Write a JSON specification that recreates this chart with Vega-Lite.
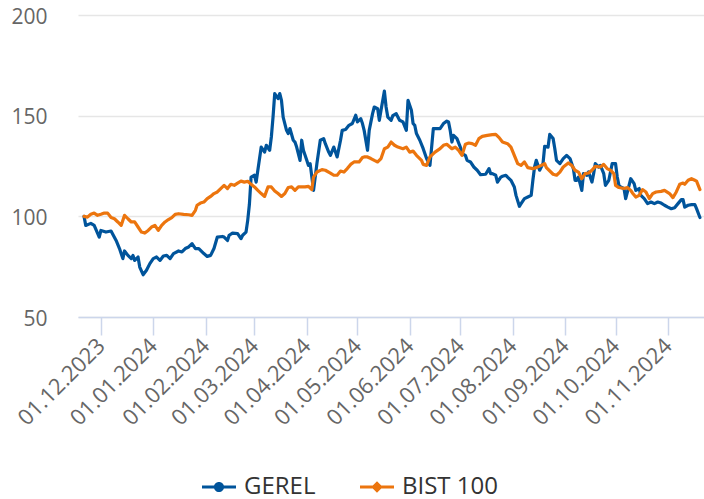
{
  "$schema": "https://vega.github.io/schema/vega-lite/v6.json",
  "width": 626,
  "height": 302,
  "autosize": {"type": "none"},
  "padding": {"left": 78, "top": 15, "right": 0, "bottom": 182},
  "background": "white",
  "config": {"view": {"stroke": null}},
  "data": {"values": [
{"s":"GEREL","d":"2023-11-21","v":100},{"s":"GEREL","d":"2023-11-22","v":95.5},{"s":"GEREL","d":"2023-11-25","v":96.5},{"s":"GEREL","d":"2023-11-27","v":95.5},{"s":"GEREL","d":"2023-11-30","v":89.7},{"s":"GEREL","d":"2023-12-01","v":93},{"s":"GEREL","d":"2023-12-04","v":92.2},{"s":"GEREL","d":"2023-12-07","v":92.7},{"s":"GEREL","d":"2023-12-10","v":88},{"s":"GEREL","d":"2023-12-12","v":84},{"s":"GEREL","d":"2023-12-14","v":79},{"s":"GEREL","d":"2023-12-15","v":82.8},{"s":"GEREL","d":"2023-12-17","v":80.6},{"s":"GEREL","d":"2023-12-19","v":79},{"s":"GEREL","d":"2023-12-20","v":80.6},{"s":"GEREL","d":"2023-12-21","v":78.1},{"s":"GEREL","d":"2023-12-23","v":79.8},{"s":"GEREL","d":"2023-12-24","v":74.8},{"s":"GEREL","d":"2023-12-26","v":71},{"s":"GEREL","d":"2023-12-28","v":73.2},{"s":"GEREL","d":"2023-12-30","v":76.5},
{"s":"GEREL","d":"2024-01-01","v":79},{"s":"GEREL","d":"2024-01-03","v":79.8},{"s":"GEREL","d":"2024-01-05","v":78.1},{"s":"GEREL","d":"2024-01-07","v":80.3},{"s":"GEREL","d":"2024-01-09","v":80.6},{"s":"GEREL","d":"2024-01-11","v":79},{"s":"GEREL","d":"2024-01-13","v":81.5},{"s":"GEREL","d":"2024-01-16","v":82.8},{"s":"GEREL","d":"2024-01-18","v":82.3},{"s":"GEREL","d":"2024-01-20","v":84},{"s":"GEREL","d":"2024-01-22","v":84.8},{"s":"GEREL","d":"2024-01-24","v":86.4},{"s":"GEREL","d":"2024-01-26","v":84},{"s":"GEREL","d":"2024-01-28","v":84},{"s":"GEREL","d":"2024-01-31","v":81.5},
{"s":"GEREL","d":"2024-02-02","v":80.1},{"s":"GEREL","d":"2024-02-04","v":80.6},{"s":"GEREL","d":"2024-02-06","v":84},{"s":"GEREL","d":"2024-02-08","v":89.7},{"s":"GEREL","d":"2024-02-11","v":90},{"s":"GEREL","d":"2024-02-12","v":89.7},{"s":"GEREL","d":"2024-02-14","v":88},{"s":"GEREL","d":"2024-02-15","v":90.6},{"s":"GEREL","d":"2024-02-17","v":91.7},{"s":"GEREL","d":"2024-02-20","v":91.4},{"s":"GEREL","d":"2024-02-22","v":88.9},{"s":"GEREL","d":"2024-02-23","v":90.6},{"s":"GEREL","d":"2024-02-25","v":92.2},{"s":"GEREL","d":"2024-02-26","v":98},{"s":"GEREL","d":"2024-02-27","v":106},{"s":"GEREL","d":"2024-02-28","v":119.5},
{"s":"GEREL","d":"2024-03-01","v":120.4},{"s":"GEREL","d":"2024-03-02","v":117},{"s":"GEREL","d":"2024-03-03","v":122.9},{"s":"GEREL","d":"2024-03-05","v":134.4},{"s":"GEREL","d":"2024-03-07","v":131.9},{"s":"GEREL","d":"2024-03-08","v":135.3},{"s":"GEREL","d":"2024-03-10","v":132.8},{"s":"GEREL","d":"2024-03-11","v":139.4},{"s":"GEREL","d":"2024-03-12","v":149.3},{"s":"GEREL","d":"2024-03-13","v":161},{"s":"GEREL","d":"2024-03-15","v":158.5},{"s":"GEREL","d":"2024-03-16","v":161},{"s":"GEREL","d":"2024-03-17","v":157.6},{"s":"GEREL","d":"2024-03-18","v":149.3},{"s":"GEREL","d":"2024-03-20","v":142.7},{"s":"GEREL","d":"2024-03-21","v":141.1},{"s":"GEREL","d":"2024-03-22","v":143.6},{"s":"GEREL","d":"2024-03-24","v":137.8},{"s":"GEREL","d":"2024-03-25","v":136.9},{"s":"GEREL","d":"2024-03-26","v":134.4},{"s":"GEREL","d":"2024-03-28","v":127.8},{"s":"GEREL","d":"2024-03-29","v":137.8},{"s":"GEREL","d":"2024-03-30","v":132.8},
{"s":"GEREL","d":"2024-04-01","v":127.8},{"s":"GEREL","d":"2024-04-02","v":125.3},{"s":"GEREL","d":"2024-04-03","v":126.2},{"s":"GEREL","d":"2024-04-05","v":112.9},{"s":"GEREL","d":"2024-04-06","v":119.5},{"s":"GEREL","d":"2024-04-07","v":126.2},{"s":"GEREL","d":"2024-04-09","v":137.8},{"s":"GEREL","d":"2024-04-11","v":138.6},{"s":"GEREL","d":"2024-04-12","v":136.1},{"s":"GEREL","d":"2024-04-14","v":131.9},{"s":"GEREL","d":"2024-04-15","v":130.3},{"s":"GEREL","d":"2024-04-17","v":134.4},{"s":"GEREL","d":"2024-04-19","v":129.5},{"s":"GEREL","d":"2024-04-21","v":137.8},{"s":"GEREL","d":"2024-04-22","v":142.7},{"s":"GEREL","d":"2024-04-24","v":143.1},{"s":"GEREL","d":"2024-04-26","v":145.2},{"s":"GEREL","d":"2024-04-28","v":146.1},{"s":"GEREL","d":"2024-04-30","v":150.2},
{"s":"GEREL","d":"2024-05-01","v":146.9},{"s":"GEREL","d":"2024-05-03","v":148.5},{"s":"GEREL","d":"2024-05-04","v":146.1},{"s":"GEREL","d":"2024-05-05","v":142.7},{"s":"GEREL","d":"2024-05-07","v":132.8},{"s":"GEREL","d":"2024-05-08","v":142.7},{"s":"GEREL","d":"2024-05-10","v":151},{"s":"GEREL","d":"2024-05-11","v":154.3},{"s":"GEREL","d":"2024-05-13","v":153.5},{"s":"GEREL","d":"2024-05-14","v":147.7},{"s":"GEREL","d":"2024-05-15","v":152.7},{"s":"GEREL","d":"2024-05-17","v":162.2},{"s":"GEREL","d":"2024-05-18","v":154.3},{"s":"GEREL","d":"2024-05-19","v":149.3},{"s":"GEREL","d":"2024-05-21","v":147.7},{"s":"GEREL","d":"2024-05-22","v":150},{"s":"GEREL","d":"2024-05-24","v":151},{"s":"GEREL","d":"2024-05-26","v":147.7},{"s":"GEREL","d":"2024-05-28","v":146.9},{"s":"GEREL","d":"2024-05-30","v":142.7},{"s":"GEREL","d":"2024-05-31","v":157.6},
{"s":"GEREL","d":"2024-06-02","v":152.7},{"s":"GEREL","d":"2024-06-03","v":146.1},{"s":"GEREL","d":"2024-06-04","v":145.2},{"s":"GEREL","d":"2024-06-05","v":141.1},{"s":"GEREL","d":"2024-06-07","v":137.8},{"s":"GEREL","d":"2024-06-09","v":133.6},{"s":"GEREL","d":"2024-06-11","v":128.7},{"s":"GEREL","d":"2024-06-13","v":125.3},{"s":"GEREL","d":"2024-06-14","v":134.4},{"s":"GEREL","d":"2024-06-15","v":143.6},{"s":"GEREL","d":"2024-06-17","v":143.6},{"s":"GEREL","d":"2024-06-19","v":143.6},{"s":"GEREL","d":"2024-06-21","v":146.1},{"s":"GEREL","d":"2024-06-23","v":147.3},{"s":"GEREL","d":"2024-06-24","v":146.9},{"s":"GEREL","d":"2024-06-25","v":142.7},{"s":"GEREL","d":"2024-06-26","v":136.9},{"s":"GEREL","d":"2024-06-27","v":140.2},{"s":"GEREL","d":"2024-06-29","v":138.6},
{"s":"GEREL","d":"2024-07-01","v":134.4},{"s":"GEREL","d":"2024-07-02","v":131.1},{"s":"GEREL","d":"2024-07-04","v":130.3},{"s":"GEREL","d":"2024-07-05","v":127.8},{"s":"GEREL","d":"2024-07-07","v":127},{"s":"GEREL","d":"2024-07-09","v":124.5},{"s":"GEREL","d":"2024-07-11","v":122.9},{"s":"GEREL","d":"2024-07-13","v":120.7},{"s":"GEREL","d":"2024-07-16","v":120.9},{"s":"GEREL","d":"2024-07-18","v":123.7},{"s":"GEREL","d":"2024-07-19","v":121.2},{"s":"GEREL","d":"2024-07-20","v":121.2},{"s":"GEREL","d":"2024-07-22","v":120.4},{"s":"GEREL","d":"2024-07-23","v":117},{"s":"GEREL","d":"2024-07-25","v":119.5},{"s":"GEREL","d":"2024-07-26","v":119.9},{"s":"GEREL","d":"2024-07-28","v":120.4},{"s":"GEREL","d":"2024-07-29","v":119.5},{"s":"GEREL","d":"2024-07-31","v":117.9},
{"s":"GEREL","d":"2024-08-02","v":114.6},{"s":"GEREL","d":"2024-08-03","v":110.4},{"s":"GEREL","d":"2024-08-05","v":105},{"s":"GEREL","d":"2024-08-06","v":106.3},{"s":"GEREL","d":"2024-08-08","v":108.8},{"s":"GEREL","d":"2024-08-10","v":109.6},{"s":"GEREL","d":"2024-08-12","v":110.4},{"s":"GEREL","d":"2024-08-13","v":117.9},{"s":"GEREL","d":"2024-08-14","v":124.5},{"s":"GEREL","d":"2024-08-15","v":127.8},{"s":"GEREL","d":"2024-08-17","v":122.9},{"s":"GEREL","d":"2024-08-19","v":126.2},{"s":"GEREL","d":"2024-08-20","v":134.8},{"s":"GEREL","d":"2024-08-22","v":134.4},{"s":"GEREL","d":"2024-08-23","v":140.7},{"s":"GEREL","d":"2024-08-25","v":138.6},{"s":"GEREL","d":"2024-08-26","v":133.6},{"s":"GEREL","d":"2024-08-27","v":127.8},{"s":"GEREL","d":"2024-08-29","v":126.2},{"s":"GEREL","d":"2024-08-31","v":128.7},
{"s":"GEREL","d":"2024-09-02","v":130.3},{"s":"GEREL","d":"2024-09-04","v":128.7},{"s":"GEREL","d":"2024-09-06","v":123.7},{"s":"GEREL","d":"2024-09-07","v":117.9},{"s":"GEREL","d":"2024-09-08","v":117.9},{"s":"GEREL","d":"2024-09-09","v":119.5},{"s":"GEREL","d":"2024-09-11","v":112.9},{"s":"GEREL","d":"2024-09-12","v":121.2},{"s":"GEREL","d":"2024-09-14","v":120.4},{"s":"GEREL","d":"2024-09-15","v":122},{"s":"GEREL","d":"2024-09-17","v":117},{"s":"GEREL","d":"2024-09-18","v":121.2},{"s":"GEREL","d":"2024-09-19","v":126.2},{"s":"GEREL","d":"2024-09-21","v":124.5},{"s":"GEREL","d":"2024-09-22","v":125.3},{"s":"GEREL","d":"2024-09-24","v":121.2},{"s":"GEREL","d":"2024-09-25","v":115.4},{"s":"GEREL","d":"2024-09-27","v":117.9},{"s":"GEREL","d":"2024-09-28","v":122},{"s":"GEREL","d":"2024-09-29","v":126.2},
{"s":"GEREL","d":"2024-10-01","v":126.2},{"s":"GEREL","d":"2024-10-02","v":119.5},{"s":"GEREL","d":"2024-10-03","v":115.4},{"s":"GEREL","d":"2024-10-04","v":114.6},{"s":"GEREL","d":"2024-10-06","v":113.8},{"s":"GEREL","d":"2024-10-07","v":108.8},{"s":"GEREL","d":"2024-10-09","v":115.4},{"s":"GEREL","d":"2024-10-10","v":118.7},{"s":"GEREL","d":"2024-10-12","v":116.2},{"s":"GEREL","d":"2024-10-13","v":112.9},{"s":"GEREL","d":"2024-10-15","v":113.8},{"s":"GEREL","d":"2024-10-16","v":110.4},{"s":"GEREL","d":"2024-10-18","v":108.8},{"s":"GEREL","d":"2024-10-20","v":106.3},{"s":"GEREL","d":"2024-10-22","v":107.1},{"s":"GEREL","d":"2024-10-24","v":106.3},{"s":"GEREL","d":"2024-10-26","v":107.1},{"s":"GEREL","d":"2024-10-28","v":106.6},{"s":"GEREL","d":"2024-10-30","v":105.5},
{"s":"GEREL","d":"2024-11-01","v":104.6},{"s":"GEREL","d":"2024-11-03","v":103.8},{"s":"GEREL","d":"2024-11-05","v":104.3},{"s":"GEREL","d":"2024-11-07","v":106.3},{"s":"GEREL","d":"2024-11-09","v":108.3},{"s":"GEREL","d":"2024-11-10","v":108.3},{"s":"GEREL","d":"2024-11-11","v":104.6},{"s":"GEREL","d":"2024-11-13","v":105.5},{"s":"GEREL","d":"2024-11-15","v":105.8},{"s":"GEREL","d":"2024-11-17","v":105.8},{"s":"GEREL","d":"2024-11-18","v":103.8},{"s":"GEREL","d":"2024-11-20","v":99.4},
{"s":"BIST 100","d":"2023-11-21","v":100},{"s":"BIST 100","d":"2023-11-23","v":99.6},{"s":"BIST 100","d":"2023-11-25","v":101},{"s":"BIST 100","d":"2023-11-27","v":101.6},{"s":"BIST 100","d":"2023-11-29","v":100.5},{"s":"BIST 100","d":"2023-12-01","v":101},{"s":"BIST 100","d":"2023-12-03","v":101.6},{"s":"BIST 100","d":"2023-12-05","v":101.6},{"s":"BIST 100","d":"2023-12-07","v":99.4},{"s":"BIST 100","d":"2023-12-09","v":98.8},{"s":"BIST 100","d":"2023-12-11","v":97.2},{"s":"BIST 100","d":"2023-12-13","v":95.5},{"s":"BIST 100","d":"2023-12-15","v":100.5},{"s":"BIST 100","d":"2023-12-17","v":98.8},{"s":"BIST 100","d":"2023-12-19","v":97.2},{"s":"BIST 100","d":"2023-12-21","v":97.2},{"s":"BIST 100","d":"2023-12-23","v":94.7},{"s":"BIST 100","d":"2023-12-25","v":92.2},{"s":"BIST 100","d":"2023-12-27","v":91.7},{"s":"BIST 100","d":"2023-12-29","v":93},{"s":"BIST 100","d":"2023-12-31","v":94.7},
{"s":"BIST 100","d":"2024-01-02","v":95.5},{"s":"BIST 100","d":"2024-01-04","v":93},{"s":"BIST 100","d":"2024-01-06","v":95.5},{"s":"BIST 100","d":"2024-01-08","v":97.2},{"s":"BIST 100","d":"2024-01-10","v":98.4},{"s":"BIST 100","d":"2024-01-12","v":99.4},{"s":"BIST 100","d":"2024-01-14","v":101},{"s":"BIST 100","d":"2024-01-16","v":101.3},{"s":"BIST 100","d":"2024-01-19","v":101},{"s":"BIST 100","d":"2024-01-22","v":100.8},{"s":"BIST 100","d":"2024-01-24","v":100.5},{"s":"BIST 100","d":"2024-01-26","v":103},{"s":"BIST 100","d":"2024-01-27","v":105.5},{"s":"BIST 100","d":"2024-01-29","v":106.6},{"s":"BIST 100","d":"2024-01-31","v":107.1},
{"s":"BIST 100","d":"2024-02-02","v":108.8},{"s":"BIST 100","d":"2024-02-04","v":109.9},{"s":"BIST 100","d":"2024-02-06","v":111.3},{"s":"BIST 100","d":"2024-02-08","v":112.1},{"s":"BIST 100","d":"2024-02-10","v":113.8},{"s":"BIST 100","d":"2024-02-12","v":115.4},{"s":"BIST 100","d":"2024-02-14","v":113.8},{"s":"BIST 100","d":"2024-02-16","v":115.9},{"s":"BIST 100","d":"2024-02-18","v":115.4},{"s":"BIST 100","d":"2024-02-20","v":116.5},{"s":"BIST 100","d":"2024-02-22","v":117.5},{"s":"BIST 100","d":"2024-02-24","v":117},{"s":"BIST 100","d":"2024-02-26","v":117.4},{"s":"BIST 100","d":"2024-02-28","v":115.9},
{"s":"BIST 100","d":"2024-03-01","v":114.6},{"s":"BIST 100","d":"2024-03-03","v":112.9},{"s":"BIST 100","d":"2024-03-05","v":111.3},{"s":"BIST 100","d":"2024-03-07","v":109.9},{"s":"BIST 100","d":"2024-03-09","v":114.6},{"s":"BIST 100","d":"2024-03-11","v":114.6},{"s":"BIST 100","d":"2024-03-13","v":112.6},{"s":"BIST 100","d":"2024-03-15","v":111.3},{"s":"BIST 100","d":"2024-03-17","v":109.9},{"s":"BIST 100","d":"2024-03-19","v":111.3},{"s":"BIST 100","d":"2024-03-21","v":114.3},{"s":"BIST 100","d":"2024-03-23","v":114.6},{"s":"BIST 100","d":"2024-03-25","v":112.9},{"s":"BIST 100","d":"2024-03-27","v":114.6},{"s":"BIST 100","d":"2024-03-29","v":114.6},{"s":"BIST 100","d":"2024-03-31","v":114.6},
{"s":"BIST 100","d":"2024-04-02","v":114.9},{"s":"BIST 100","d":"2024-04-04","v":113.3},{"s":"BIST 100","d":"2024-04-05","v":119.5},{"s":"BIST 100","d":"2024-04-07","v":122},{"s":"BIST 100","d":"2024-04-10","v":123.2},{"s":"BIST 100","d":"2024-04-12","v":122.9},{"s":"BIST 100","d":"2024-04-15","v":121.5},{"s":"BIST 100","d":"2024-04-17","v":120.4},{"s":"BIST 100","d":"2024-04-19","v":120.4},{"s":"BIST 100","d":"2024-04-21","v":122.5},{"s":"BIST 100","d":"2024-04-23","v":122},{"s":"BIST 100","d":"2024-04-25","v":123.7},{"s":"BIST 100","d":"2024-04-27","v":125.8},{"s":"BIST 100","d":"2024-04-29","v":127},
{"s":"BIST 100","d":"2024-05-02","v":127},{"s":"BIST 100","d":"2024-05-04","v":129.2},{"s":"BIST 100","d":"2024-05-05","v":129.5},{"s":"BIST 100","d":"2024-05-07","v":129.5},{"s":"BIST 100","d":"2024-05-09","v":128.7},{"s":"BIST 100","d":"2024-05-11","v":127.8},{"s":"BIST 100","d":"2024-05-13","v":127},{"s":"BIST 100","d":"2024-05-15","v":128.7},{"s":"BIST 100","d":"2024-05-17","v":133.6},{"s":"BIST 100","d":"2024-05-19","v":134.4},{"s":"BIST 100","d":"2024-05-21","v":136.9},{"s":"BIST 100","d":"2024-05-23","v":135.3},{"s":"BIST 100","d":"2024-05-25","v":134.4},{"s":"BIST 100","d":"2024-05-28","v":133.6},{"s":"BIST 100","d":"2024-05-30","v":134.4},
{"s":"BIST 100","d":"2024-06-01","v":131.9},{"s":"BIST 100","d":"2024-06-03","v":132.4},{"s":"BIST 100","d":"2024-06-05","v":130.3},{"s":"BIST 100","d":"2024-06-08","v":127.8},{"s":"BIST 100","d":"2024-06-09","v":125.8},{"s":"BIST 100","d":"2024-06-11","v":125.3},{"s":"BIST 100","d":"2024-06-13","v":129.5},{"s":"BIST 100","d":"2024-06-16","v":131.9},{"s":"BIST 100","d":"2024-06-19","v":133.6},{"s":"BIST 100","d":"2024-06-21","v":135.3},{"s":"BIST 100","d":"2024-06-23","v":135.8},{"s":"BIST 100","d":"2024-06-26","v":133.6},{"s":"BIST 100","d":"2024-06-28","v":134.4},{"s":"BIST 100","d":"2024-06-30","v":132.8},
{"s":"BIST 100","d":"2024-07-02","v":130.3},{"s":"BIST 100","d":"2024-07-04","v":135.8},{"s":"BIST 100","d":"2024-07-06","v":136.4},{"s":"BIST 100","d":"2024-07-08","v":136.1},{"s":"BIST 100","d":"2024-07-10","v":135.3},{"s":"BIST 100","d":"2024-07-12","v":138.6},{"s":"BIST 100","d":"2024-07-14","v":139.7},{"s":"BIST 100","d":"2024-07-17","v":140.2},{"s":"BIST 100","d":"2024-07-20","v":140.6},{"s":"BIST 100","d":"2024-07-22","v":140.7},{"s":"BIST 100","d":"2024-07-24","v":139.1},{"s":"BIST 100","d":"2024-07-26","v":136.9},{"s":"BIST 100","d":"2024-07-29","v":136.1},{"s":"BIST 100","d":"2024-07-31","v":134.4},
{"s":"BIST 100","d":"2024-08-02","v":130.3},{"s":"BIST 100","d":"2024-08-04","v":126.2},{"s":"BIST 100","d":"2024-08-06","v":125.3},{"s":"BIST 100","d":"2024-08-08","v":127},{"s":"BIST 100","d":"2024-08-10","v":124.2},{"s":"BIST 100","d":"2024-08-13","v":123.7},{"s":"BIST 100","d":"2024-08-15","v":124.2},{"s":"BIST 100","d":"2024-08-18","v":125.3},{"s":"BIST 100","d":"2024-08-20","v":126.2},{"s":"BIST 100","d":"2024-08-21","v":124.2},{"s":"BIST 100","d":"2024-08-25","v":120.9},{"s":"BIST 100","d":"2024-08-27","v":120.4},{"s":"BIST 100","d":"2024-08-29","v":122},{"s":"BIST 100","d":"2024-08-31","v":124.5},
{"s":"BIST 100","d":"2024-09-03","v":126.5},{"s":"BIST 100","d":"2024-09-05","v":125.3},{"s":"BIST 100","d":"2024-09-07","v":122.9},{"s":"BIST 100","d":"2024-09-09","v":122},{"s":"BIST 100","d":"2024-09-11","v":118.7},{"s":"BIST 100","d":"2024-09-13","v":121.2},{"s":"BIST 100","d":"2024-09-15","v":121.5},{"s":"BIST 100","d":"2024-09-17","v":122.9},{"s":"BIST 100","d":"2024-09-19","v":124.8},{"s":"BIST 100","d":"2024-09-22","v":124.5},{"s":"BIST 100","d":"2024-09-24","v":125.8},{"s":"BIST 100","d":"2024-09-26","v":123.7},{"s":"BIST 100","d":"2024-09-28","v":122.9},{"s":"BIST 100","d":"2024-09-30","v":121.2},
{"s":"BIST 100","d":"2024-10-01","v":115.4},{"s":"BIST 100","d":"2024-10-03","v":114.3},{"s":"BIST 100","d":"2024-10-06","v":113.8},{"s":"BIST 100","d":"2024-10-08","v":114.3},{"s":"BIST 100","d":"2024-10-10","v":112.9},{"s":"BIST 100","d":"2024-10-11","v":111.6},{"s":"BIST 100","d":"2024-10-13","v":109.6},{"s":"BIST 100","d":"2024-10-15","v":110.4},{"s":"BIST 100","d":"2024-10-17","v":113.3},{"s":"BIST 100","d":"2024-10-19","v":112.1},{"s":"BIST 100","d":"2024-10-21","v":108.8},{"s":"BIST 100","d":"2024-10-23","v":111.3},{"s":"BIST 100","d":"2024-10-25","v":112.1},{"s":"BIST 100","d":"2024-10-28","v":112.4},{"s":"BIST 100","d":"2024-10-30","v":112.9},
{"s":"BIST 100","d":"2024-11-02","v":111.3},{"s":"BIST 100","d":"2024-11-04","v":109.3},{"s":"BIST 100","d":"2024-11-06","v":112.1},{"s":"BIST 100","d":"2024-11-08","v":115.9},{"s":"BIST 100","d":"2024-11-10","v":116.5},{"s":"BIST 100","d":"2024-11-11","v":115.9},{"s":"BIST 100","d":"2024-11-13","v":117.9},{"s":"BIST 100","d":"2024-11-15","v":118.7},{"s":"BIST 100","d":"2024-11-17","v":117.9},{"s":"BIST 100","d":"2024-11-18","v":117.5},{"s":"BIST 100","d":"2024-11-20","v":113.3}
  ]},
  "mark": {"type": "line", "strokeWidth": 3.2, "strokeJoin": "round", "strokeCap": "round"},
  "encoding": {
    "x": {
      "field": "d", "type": "temporal",
      "scale": {"type": "utc", "domain": [
        {"year": 2023, "month": 11, "date": 17, "hours": 10, "utc": true},
        {"year": 2024, "month": 11, "date": 22, "hours": 10, "utc": true}
      ]},
      "axis": {
        "title": null,
        "format": "%d.%m.%Y",
        "values": [
          {"year": 2023, "month": 12, "date": 1, "utc": true},
          {"year": 2024, "month": 1, "date": 1, "utc": true},
          {"year": 2024, "month": 2, "date": 1, "utc": true},
          {"year": 2024, "month": 3, "date": 1, "utc": true},
          {"year": 2024, "month": 4, "date": 1, "utc": true},
          {"year": 2024, "month": 5, "date": 1, "utc": true},
          {"year": 2024, "month": 6, "date": 1, "utc": true},
          {"year": 2024, "month": 7, "date": 1, "utc": true},
          {"year": 2024, "month": 8, "date": 1, "utc": true},
          {"year": 2024, "month": 9, "date": 1, "utc": true},
          {"year": 2024, "month": 10, "date": 1, "utc": true},
          {"year": 2024, "month": 11, "date": 1, "utc": true}
        ],
        "labelAngle": -45,
        "labelAlign": "right",
        "labelBaseline": "middle",
        "labelFont": "Open Sans",
        "labelFontSize": 22,
        "labelColor": "#666666",
        "labelPadding": 7,
        "labelOverlap": false,
        "labelFlush": false,
        "grid": false,
        "domainColor": "#ccd6eb",
        "domainWidth": 1.5,
        "tickColor": "#ccd6eb",
        "tickWidth": 1.5,
        "tickSize": 18
      }
    },
    "y": {
      "field": "v", "type": "quantitative",
      "scale": {"domain": [50, 200], "nice": false, "zero": false},
      "axis": {
        "title": null,
        "values": [50, 100, 150, 200],
        "domain": false,
        "ticks": false,
        "tickSize": 0,
        "labelPadding": 31,
        "labelFont": "Open Sans",
        "labelFontSize": 21,
        "labelColor": "#666666",
        "labelOffset": 2,
        "gridColor": "#e6e6e6",
        "gridWidth": 1.5
      }
    },
    "color": {
      "field": "s", "type": "nominal",
      "scale": {"domain": ["GEREL", "BIST 100"], "range": ["#00549b", "#ec750e"]},
      "legend": {
        "title": null,
        "orient": "none",
        "direction": "horizontal",
        "legendX": 124,
        "legendY": 455,
        "symbolSize": 1156,
        "symbolType": "M-1,-0.09 L1,-0.09 L1,0.09 L-1,0.09 Z",
        "labelFont": "Open Sans",
        "labelFontSize": 24,
        "labelBaseline": "middle",
        "labelColor": "#333333",
        "labelOffset": 8,
        "labelLimit": 0,
        "columnPadding": 44,
        "encode": {
          "symbols": {
            "update": {
              "shape": {"signal": "datum.value === 'GEREL' ? 'M-1,-0.09 L1,-0.09 L1,0.09 L-1,0.09 Z M0.3,0 A0.3,0.3 0 1,1 -0.3,0 A0.3,0.3 0 1,1 0.3,0 Z' : 'M-1,-0.09 L1,-0.09 L1,0.09 L-1,0.09 Z M0,-0.34 L0.34,0 L0,0.34 L-0.34,0 Z'"},
              "fill": {"signal": "datum.value === 'GEREL' ? '#00549b' : '#ec750e'"},
              "stroke": {"value": "transparent"},
              "strokeWidth": {"value": 0},
              "opacity": {"value": 1}
            }
          }
        }
      }
    }
  }
}
